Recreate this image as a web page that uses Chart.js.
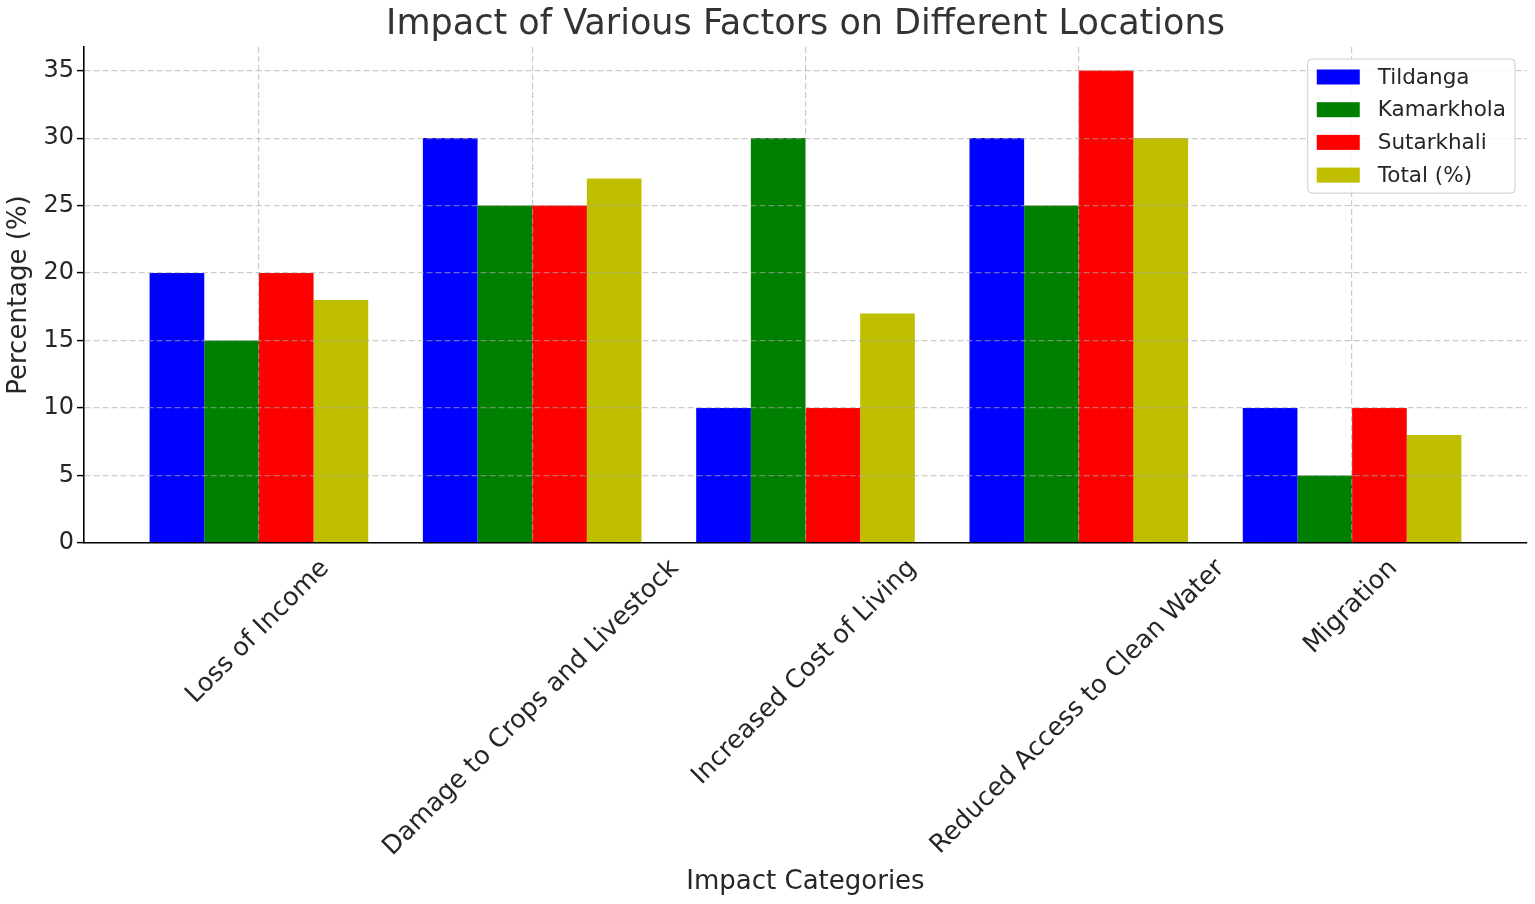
<!DOCTYPE html>
<html>
<head>
<meta charset="utf-8">
<script src="https://cdn.jsdelivr.net/npm/chart.js@4.4.1/dist/chart.umd.min.js"></script>
<style>
  html, body { margin: 0; padding: 0; background: #ffffff; }
  #wrap { width: 1535px; height: 904px; position: relative; }
</style>
</head>
<body>
<div id="wrap"><canvas id="c"></canvas></div>
<script>
// ---- data ----
const categories = ['Loss of Income', 'Damage to Crops and Livestock', 'Increased Cost of Living', 'Reduced Access to Clean Water', 'Migration'];
const seriesNames = ['Tildanga', 'Kamarkhola', 'Sutarkhali', 'Total (%)'];
const tildanga   = [20, 30, 10, 30, 10];
const kamarkhola = [15, 25, 30, 25, 5];
const sutarkhali = [20, 25, 10, 35, 10];
const totalPct   = [18, 27, 17, 30, 8];
const yTickValues = [0, 5, 10, 15, 20, 25, 30, 35];

const seriesValues = [tildanga, kamarkhola, sutarkhali, totalPct];
const seriesColors = ['#0000ff', '#008000', '#ff0000', '#bfbf00'];

const FONT = '"DejaVu Sans", "Liberation Sans", sans-serif';
const TEXT = '#262626';

const datasets = seriesNames.map((name, s) => ({
  label: name,
  data: seriesValues[s].map((v, i) => ({ x: i, y: v })),
  backgroundColor: seriesColors[s],
  borderWidth: 0,
  categoryPercentage: 0.8,
  barPercentage: 1.0
}));

// rotated category labels, centred under each tick like matplotlib
const xLabelPlugin = {
  id: 'xLabels',
  afterDraw(chart) {
    const ctx = chart.ctx;
    const xs = chart.scales.x;
    const y0 = chart.chartArea.bottom;
    const size = 25.5;
    ctx.save();
    ctx.font = size + 'px ' + FONT;
    ctx.fillStyle = TEXT;
    ctx.textAlign = 'center';
    ctx.textBaseline = 'middle';
    categories.forEach((lab, i) => {
      const w = ctx.measureText(lab).width;
      const h = size * 1.164;
      const d = (w + h) / Math.SQRT2;
      const cx = xs.getPixelForValue(i) - 1;
      const cy = y0 + 11 + d / 2;
      ctx.save();
      ctx.translate(cx, cy);
      ctx.rotate(-Math.PI / 4);
      ctx.fillText(lab, 0, 0);
      ctx.restore();
    });
    ctx.restore();
  }
};

// matplotlib-like legend inside the plot, upper right
const legendPlugin = {
  id: 'innerLegend',
  afterDraw(chart) {
    const ctx = chart.ctx;
    const area = chart.chartArea;
    const size = 21.5;
    ctx.save();
    ctx.font = size + 'px ' + FONT;
    const maxW = Math.max(...chart.data.datasets.map(d => ctx.measureText(d.label).width));
    const padL = 9, swW = 43, swH = 15, gap = 18, padR = 9, rowH = 32.7, padT = 18;
    const n = chart.data.datasets.length;
    const boxW = padL + swW + gap + maxW + padR;
    const boxH = padT * 2 + rowH * (n - 1);
    const right = area.right - 12;
    const left = right - boxW;
    const top = area.top + 12;
    const r = 4;
    ctx.beginPath();
    ctx.moveTo(left + r, top);
    ctx.lineTo(left + boxW - r, top);
    ctx.quadraticCurveTo(left + boxW, top, left + boxW, top + r);
    ctx.lineTo(left + boxW, top + boxH - r);
    ctx.quadraticCurveTo(left + boxW, top + boxH, left + boxW - r, top + boxH);
    ctx.lineTo(left + r, top + boxH);
    ctx.quadraticCurveTo(left, top + boxH, left, top + boxH - r);
    ctx.lineTo(left, top + r);
    ctx.quadraticCurveTo(left, top, left + r, top);
    ctx.closePath();
    ctx.fillStyle = 'rgba(255,255,255,0.85)';
    ctx.fill();
    ctx.strokeStyle = '#cccccc';
    ctx.lineWidth = 1;
    ctx.stroke();
    ctx.textAlign = 'left';
    ctx.textBaseline = 'middle';
    chart.data.datasets.forEach((d, k) => {
      const cy = top + padT + k * rowH;
      ctx.fillStyle = d.backgroundColor;
      ctx.fillRect(left + padL, cy - swH / 2, swW, swH);
      ctx.fillStyle = TEXT;
      ctx.fillText(d.label, left + padL + swW + gap, cy + 1);
    });
    ctx.restore();
  }
};

new Chart(document.getElementById('c'), {
  type: 'bar',
  data: { datasets },
  plugins: [xLabelPlugin, legendPlugin],
  options: {
    responsive: true,
    maintainAspectRatio: false,
    animation: false,
    layout: { padding: { left: 0, right: 8, top: 0, bottom: 0 } },
    plugins: {
      legend: { display: false },
      tooltip: { enabled: false },
      title: {
        display: true,
        fullSize: false,
        text: 'Impact of Various Factors on Different Locations',
        color: '#333333',
        font: { family: FONT, size: 35, weight: 'normal', lineHeight: 1.2 },
        padding: { top: 4, bottom: 1 }
      }
    },
    scales: {
      x: {
        type: 'linear',
        min: -0.64,
        max: 4.64,
        offset: false,
        afterBuildTicks: (axis) => { axis.ticks = categories.map((_, i) => ({ value: i })); },
        afterFit: (axis) => { axis.height = 361; },
        ticks: { display: false },
        grid: {
          offset: false,
          z: 1,
          color: 'rgba(170,170,170,0.6)',
          lineWidth: 1.2,
          drawTicks: false
        },
        border: { display: true, color: '#000000', width: 1.6, z: 2, dash: [6, 3] },
        title: {
          display: true,
          text: 'Impact Categories',
          color: TEXT,
          font: { family: FONT, size: 26, lineHeight: 1.2 },
          padding: { top: 0, bottom: 6 }
        }
      },
      y: {
        min: 0,
        max: 36.75,
        afterBuildTicks: (axis) => { axis.ticks = yTickValues.map(v => ({ value: v })); },
        afterFit: (axis) => { axis.width = 84; },
        ticks: {
          color: TEXT,
          font: { family: FONT, size: 24 },
          padding: 3
        },
        grid: {
          z: 1,
          color: 'rgba(170,170,170,0.6)',
          lineWidth: 1.2,
          drawTicks: true,
          tickLength: 7,
          tickColor: '#000000',
          tickWidth: 1.5,
          tickBorderDash: []
        },
        border: { display: true, color: '#000000', width: 1.6, z: 2, dash: [6, 3] },
        title: {
          display: true,
          text: 'Percentage (%)',
          color: TEXT,
          font: { family: FONT, size: 26, lineHeight: 1.2 },
          padding: { top: 4, bottom: 0 }
        }
      }
    }
  }
});
</script>
</body>
</html>
